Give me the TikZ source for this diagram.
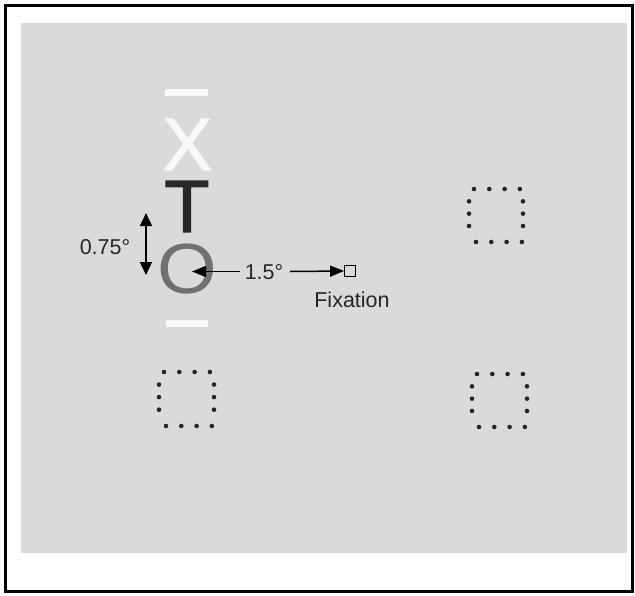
\documentclass[tikz,border=0pt]{standalone}
\usepackage{fontspec}
\setmainfont{Liberation Sans}
\newfontfamily\stimfont[FakeBold=1.6]{Liberation Sans}
\usetikzlibrary{arrows.meta}
\definecolor{bgGray}{RGB}{218,218,218}
\definecolor{tDark}{RGB}{40,40,40}
\definecolor{oGray}{RGB}{112,112,112}
\definecolor{wBar}{RGB}{248,248,248}
\tikzset{
  px/.style={x=1pt,y=-1pt},
  lbl/.style={font=\fontsize{21.5}{24}\selectfont, inner sep=0pt, text=black!85},
  stim/.style={font=\stimfont\fontsize{74}{80}\selectfont, inner sep=0pt},
  bar/.style={fill=wBar, draw=none},
  dotsq/.style={fill=black!85, draw=none},
  arr/.style={line width=1.5pt, -{Triangle[length=14pt,width=11pt]}},
  darr/.style={line width=1.5pt, {Triangle[length=13pt,width=12pt]}-{Triangle[length=13pt,width=12pt]}},
}
\newcommand{\dotsquare}[4]{% left x, top y, right x, bottom y
  \foreach \i in {0,1,2,3} {
    \fill[dotsq] ({#1+5+\i*15.3},{#2}) circle (2.3);
    \fill[dotsq] ({#1+7+\i*15.3},{#4}) circle (2.3);
  }
  \foreach \j in {1,2,3} {
    \fill[dotsq] ({#1},{#2+\j*(#4-#2)/4.3}) circle (2.3);
    \fill[dotsq] ({#3},{#2+\j*(#4-#2)/4.3}) circle (2.3);
  }
}
\begin{document}
\begin{tikzpicture}[px]
\useasboundingbox (0,0) rectangle (635,595);
\fill[white] (0,0) rectangle (635,595);
% frame
\draw[line width=2.4pt] (5.3,5.3) rectangle (632.5,591.5);
% gray field
\fill[bgGray] (21,23) rectangle (627,553);
% white bars
\fill[bar] (165,89) rectangle (208,96);
\fill[bar] (166,320) rectangle (208,327);
% letters
\node[stim, text=wBar] (X) at (187.5,144.5) {X};
\node[stim, text=tDark] (T) at (187,206.5) {T};
\node[stim, text=oGray, font=\fontsize{71}{76}\selectfont, xscale=1.08] (O) at (187.5,269.5) {O};
% size arrow
\coordinate (sTop) at (146,213);
\coordinate (sBot) at (146,275);
\draw[darr] (sTop) -- (sBot);
\node[lbl] (size) at (105,247) {0.75°};
% eccentricity
\node[lbl] (ecc) at (264,272) {1.5°};
\coordinate (oTip) at (192,271.5);
\coordinate (eL) at (240,271.5);
\draw[arr] (eL) -- (oTip);
\node[draw=black, line width=1.3pt, minimum size=10.5pt, inner sep=0pt] (fix) at (350,271) {};
\coordinate (eR) at (290,271.5);
\draw[arr] (eR) -- (fix.west);
\node[lbl] (fixlbl) at (352,299.5) {Fixation};
% dotted squares
\dotsquare{469}{189}{523}{242}
\dotsquare{159}{372}{214}{426}
\dotsquare{472}{374}{527}{427}
\end{tikzpicture}
\end{document}
